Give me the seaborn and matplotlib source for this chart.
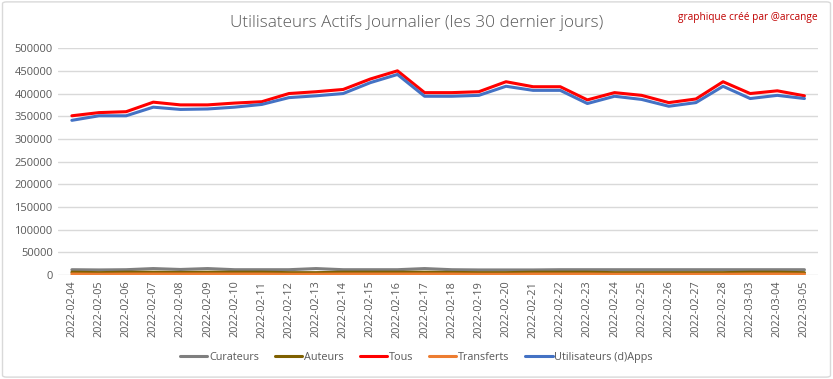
import pandas as pd
import numpy as np
import matplotlib
matplotlib.use("Agg")
import matplotlib.pyplot as plt
import seaborn as sns
from matplotlib.patches import FancyBboxPatch

sns.set_theme(style="white")
plt.rcParams['font.family'] = ['Open Sans', 'DejaVu Sans']

# Data
dates = ['2022-02-04', '2022-02-05', '2022-02-06', '2022-02-07', '2022-02-08', '2022-02-09',
         '2022-02-10', '2022-02-11', '2022-02-12', '2022-02-13', '2022-02-14', '2022-02-15',
         '2022-02-16', '2022-02-17', '2022-02-18', '2022-02-19', '2022-02-20', '2022-02-21',
         '2022-02-22', '2022-02-23', '2022-02-24', '2022-02-25', '2022-02-26', '2022-02-27',
         '2022-02-28', '2022-03-03', '2022-03-04', '2022-03-05']
curateurs = [12000, 11500, 12000, 14500, 12500, 14500, 12000, 12000, 12000, 14500, 12000, 12000,
             12000, 14500, 12000, 11500, 11500, 11500, 12000, 12000, 12000, 12000, 12000, 12000,
             12000, 12000, 12000, 12000]
auteurs = [6500, 5500, 6500, 6500, 6000, 6500, 6500, 6500, 5500, 5500, 6500, 6500,
           6500, 6500, 6000, 5500, 5500, 6500, 6500, 6500, 5500, 5500, 5500, 5500,
           5500, 6500, 6500, 5500]
tous = [351000, 358000, 360000, 381000, 375000, 375000, 379000, 382000, 400000, 404000, 409000, 432000,
        450000, 402000, 402000, 404000, 426000, 415000, 415000, 386000, 402000, 396000, 380000, 388000,
        426000, 400000, 406000, 395000]
transferts = [2500, 2000, 2500, 2500, 2500, 2500, 2500, 2500, 2000, 2000, 2500, 2500,
              2500, 2500, 2500, 2000, 2000, 2500, 2500, 2500, 2000, 2000, 2000, 2000,
              2000, 2500, 2500, 2000]
apps = [341000, 351000, 351000, 370000, 365000, 366000, 370000, 376000, 391000, 395000, 400000, 424000,
        442000, 394000, 394000, 396000, 416000, 407000, 407000, 378000, 394000, 387000, 372000, 380000,
        416000, 389000, 396000, 389000]

series = ['Curateurs', 'Auteurs', 'Tous', 'Transferts', 'Utilisateurs (d)Apps']
colors = ['#7f7f7f', '#7f6000', '#ff0000', '#ed7d31', '#4472c4']

wide = pd.DataFrame({'Curateurs': curateurs, 'Auteurs': auteurs, 'Tous': tous,
                     'Transferts': transferts, 'Utilisateurs (d)Apps': apps})
wide['pos'] = np.arange(len(dates))
df = wide.melt(id_vars='pos', var_name='serie', value_name='valeur')

fig = plt.figure(figsize=(8.33, 3.79), dpi=100)
ax = fig.add_axes([0.070, 0.274, 0.912, 0.599])

sns.lineplot(data=df, x='pos', y='valeur', hue='serie', hue_order=series,
             palette=colors, linewidth=2.2, ax=ax, legend=False)

ax.set_xlim(-0.5, len(dates) - 0.5)
ax.set_ylim(0, 500000)
ax.set_yticks(np.arange(0, 500001, 50000))
ax.set_yticklabels([str(v) for v in range(0, 500001, 50000)], color='#595959', fontsize=8)
ax.set_xticks(np.arange(len(dates)))
ax.set_xticklabels(dates, rotation=90, color='#595959', fontsize=7.8)
ax.tick_params(axis='both', length=0, pad=4)
ax.set_xlabel('')
ax.set_ylabel('')
ax.yaxis.grid(True, color='#d9d9d9', linewidth=1)
ax.xaxis.grid(False)
for s in ax.spines.values():
    s.set_visible(False)

fig.text(0.5, 0.94, 'Utilisateurs Actifs Journalier (les 30 dernier jours)',
         ha='center', va='center', fontsize=12.3, color='#595959', fontweight='light')
fig.text(0.982, 0.955, 'graphique créé par @arcange', ha='right', va='center',
         fontsize=7.3, color='#c00000')

handles = [plt.Line2D([], [], color=c, lw=2.2) for c in colors]
fig.legend(handles, series, loc='center', bbox_to_anchor=(0.5, 0.058), ncol=5,
           frameon=False, fontsize=7.8, labelcolor='#595959', handlelength=2.5,
           handletextpad=0.15, columnspacing=1.5)

fig.patches.append(FancyBboxPatch((0.003, 0.005), 0.994, 0.99, boxstyle='round,pad=0,rounding_size=0.005',
                                  transform=fig.transFigure, fill=False, edgecolor='#d9d9d9', lw=1))

fig.savefig('out.png', dpi=100)
